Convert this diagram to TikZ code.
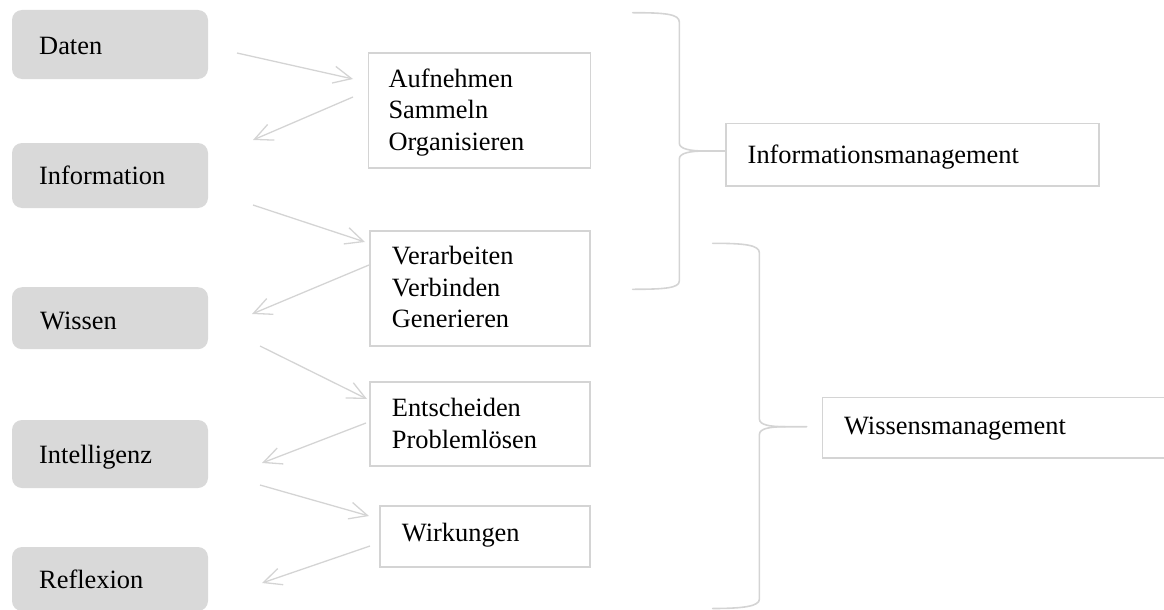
\documentclass[tikz,border=0pt]{standalone}
\usepackage{fontspec}
\setmainfont{Liberation Serif}
\usetikzlibrary{arrows.meta}
\definecolor{boxfill}{HTML}{D9D9D9}
\definecolor{linegray}{HTML}{D4D4D4}
\begin{document}
\begin{tikzpicture}[x=1pt,y=-1pt,
  stage/.style={rectangle, rounded corners=10pt, fill=boxfill, draw=none,
    minimum width=196pt, inner sep=0pt},
  activity/.style={rectangle, draw=linegray, line width=1.2pt, fill=white,
    inner sep=0pt},
  txt/.style={anchor=base west, inner sep=0pt, align=left,
    font=\fontsize{26.4}{31.5}\selectfont},
  flow/.style={draw=linegray, line width=1.3pt,
    -{Straight Barb[length=18pt,width=17pt,line width=1.3pt]}},
  brace/.style={draw=linegray, line width=1.6pt, line cap=round, line join=round}]
\path[use as bounding box] (0,0) rectangle (1164,610);

% left column: stages
\node[stage, minimum height=69pt] (daten) at (110,44.5) {};
\node[stage, minimum height=65pt] (information) at (110,175.5) {};
\node[stage, minimum height=62pt] (wissen) at (110,318.2) {};
\node[stage, minimum height=68pt] (intelligenz) at (110,454) {};
\node[stage, minimum height=64pt] (reflexion) at (110,579) {};
\node[txt] (tdaten) at (39,55) {Daten};
\node[txt] (tinformation) at (39,184) {Information};
\node[txt] (twissen) at (40,329.3) {Wissen};
\node[txt] (tintelligenz) at (39,463.3) {Intelligenz};
\node[txt] (treflexion) at (39,588.3) {Reflexion};

% middle column: activities (text anchored at the baseline of the last line)
\node[activity, minimum width=222pt, minimum height=115pt] (sammeln) at (479.5,110.5) {};
\node[activity, minimum width=220pt, minimum height=115pt] (verarbeiten) at (480,288.5) {};
\node[activity, minimum width=220pt, minimum height=84pt] (entscheiden) at (480,424) {};
\node[activity, minimum width=210pt, minimum height=61pt] (wirkungen) at (485,536.5) {};
\node[txt] (tsammeln) at (388.3,150) {Aufnehmen\\Sammeln\\Organisieren};
\node[txt] (tverarbeiten) at (391.7,327.7) {Verarbeiten\\Verbinden\\Generieren};
\node[txt] (tentscheiden) at (391.7,448) {Entscheiden\\Problemlösen};
\node[txt] (twirkungen) at (401.7,541.7) {Wirkungen};

% right column: management levels
\node[activity, minimum width=373pt, minimum height=62.7pt] (infomgmt) at (912.5,154.7) {};
\node[activity, minimum width=350pt, minimum height=60.7pt] (wissmgmt) at (997.3,427.7) {};
\node[txt] (tinfomgmt) at (747.5,163) {Informationsmanagement};
\node[txt] (twissmgmt) at (843.9,434) {Wissensmanagement};

% arrow end points between the columns
\coordinate (a1s) at (237,53);   \coordinate (a1e) at (353,79);
\coordinate (a2s) at (353,97);   \coordinate (a2e) at (253,140);
\coordinate (a3s) at (253,205);  \coordinate (a3e) at (365,242);
\coordinate (a4s) at (369,265);  \coordinate (a4e) at (252,314);
\coordinate (a5s) at (260,346);  \coordinate (a5e) at (367,399);
\coordinate (a6s) at (366,423);  \coordinate (a6e) at (262,463);
\coordinate (a7s) at (260,485);  \coordinate (a7e) at (369,516);
\coordinate (a8s) at (370,546);  \coordinate (a8e) at (262,583);
\foreach \i in {1,...,8} \draw[flow] (a\i s) -- (a\i e);

% brace for information management
\coordinate (b1tip) at (726,151);
\draw[brace] (632.7,12.7) .. controls (665,12.7) and (679.3,14) .. (679.3,22)
  -- (679.3,143) .. controls (679.3,149) and (690,151) .. (705,151) -- (b1tip);
\draw[brace] (705,151) .. controls (690,151) and (679.3,153) .. (679.3,159)
  -- (679.3,281) .. controls (679.3,288) and (665,289.3) .. (632.7,289.3);

% brace for knowledge management
\coordinate (b2tip) at (806.7,426.7);
\draw[brace] (712.7,243.3) .. controls (745,243.3) and (759.4,245) .. (759.4,253)
  -- (759.4,419) .. controls (759.4,425) and (770,426.7) .. (785,426.7) -- (b2tip);
\draw[brace] (785,426.7) .. controls (770,426.7) and (759.4,428.5) .. (759.4,434.5)
  -- (759.4,599) .. controls (759.4,606) and (745,608.5) .. (712.7,608.5);
\end{tikzpicture}
\end{document}
